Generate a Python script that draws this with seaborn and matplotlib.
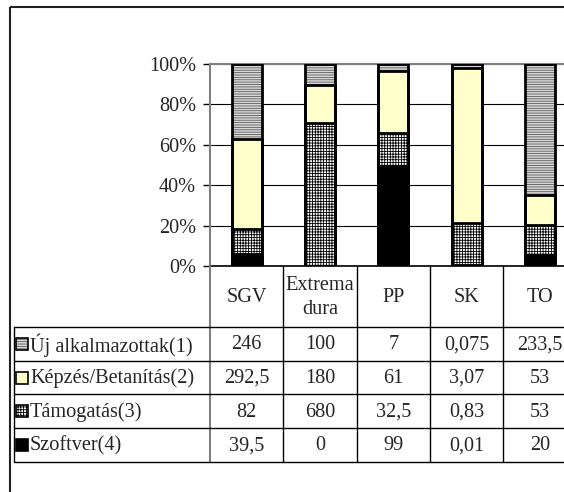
import matplotlib
matplotlib.use("Agg")
import matplotlib.pyplot as plt
from matplotlib.patches import Rectangle
import seaborn as sns

categories = ['SGV', 'Extrema dura', 'PP', 'SK', 'TO']
header_labels = ['SGV', 'Extrema\ndura', 'PP', 'SK', 'TO']
series_names = ['Új alkalmazottak(1)', 'Képzés/Betanítás(2)', 'Támogatás(3)', 'Szoftver(4)']
uj_alk = [246, 100, 7, 0.075, 233.5]
kepzes = [292.5, 180, 61, 3.07, 53]
tamogatas = [82, 680, 32.5, 0.83, 53]
szoftver = [39.5, 0, 99, 0.01, 20]
y_ticks = [0, 0.2, 0.4, 0.6, 0.8, 1.0]
y_ticklabels = ['0%', '20%', '40%', '60%', '80%', '100%']

sns.set_style("white")
plt.rcParams['font.family'] = ['Liberation Serif', 'DejaVu Serif']
plt.rcParams['hatch.linewidth'] = 0.6
FS = 14.6

W, H = 564, 492
fig = plt.figure(figsize=(W / 100, H / 100), dpi=100)

# plot area in pixels
x0, col_w = 210, 73.3
y_top, y_zero = 64, 266
ax = fig.add_axes([x0 / W, (H - y_zero) / H, 5 * col_w / W, (y_zero - y_top) / H])

totals = [a + b + c + d for a, b, c, d in zip(uj_alk, kepzes, tamogatas, szoftver)]
p_szoft = [d / t for d, t in zip(szoftver, totals)]
p_tam = [(c + d) / t for c, d, t in zip(tamogatas, szoftver, totals)]
p_kep = [(b + c + d) / t for b, c, d, t in zip(kepzes, tamogatas, szoftver, totals)]
p_all = [1.0 for _ in totals]

styles = {
    'uj': dict(face='#d8d8d8', hatch='-------', hcol='#5a5a5a'),
    'kep': dict(face='#ffffcc', hatch=None, hcol='black'),
    'tam': dict(face='white', hatch='++++++', hcol='black'),
    'szo': dict(face='black', hatch=None, hcol='black'),
}
layers = [(p_all, 'uj'), (p_kep, 'kep'), (p_tam, 'tam'), (p_szoft, 'szo')]

bw = 0.41
lw_bar = 2.0
for vals, key in layers:
    st = styles[key]
    n = len(ax.patches)
    sns.barplot(x=categories, y=vals, ax=ax, color=st['face'], saturation=1,
                width=bw, errorbar=None)
    for p in ax.patches[n:]:
        if key == 'uj':
            p.set_edgecolor(st['hcol'])
            p.set_linewidth(0)
            p.set_hatch(st['hatch'])
        else:
            p.set_edgecolor('black')
            p.set_linewidth(lw_bar)
            if st['hatch']:
                p.set_hatch(st['hatch'])

# outer black outline of the full stacks
n = len(ax.patches)
sns.barplot(x=categories, y=p_all, ax=ax, color='black', fill=False,
            width=bw, errorbar=None, linewidth=lw_bar)
for p in ax.patches[n:]:
    p.set_zorder(3)

ax.set_xlim(-0.5, 4.5)
ax.set_ylim(0, 1)
ax.set_xticks([])
ax.set_xlabel('')
ax.set_ylabel('')
ax.set_yticks(y_ticks)
ax.set_yticklabels(y_ticklabels, fontsize=FS)
ax.tick_params(axis='y', left=True, length=5, width=1, color='black', pad=5)
ax.set_axisbelow(True)
ax.yaxis.grid(True, color='black', linewidth=0.8)
ax.xaxis.grid(False)
ax.spines['top'].set_color('#808080')
ax.spines['top'].set_linewidth(1.5)
ax.spines['left'].set_color('#808080')
ax.spines['left'].set_linewidth(1.5)
ax.spines['bottom'].set_color('black')
ax.spines['bottom'].set_linewidth(1.2)
ax.spines['right'].set_visible(False)

# overlay in pixel coordinates for the data table and the frame
ov = fig.add_axes([0, 0, 1, 1])
ov.set_xlim(0, W)
ov.set_ylim(H, 0)
ov.axis('off')
ov.patch.set_visible(False)

ov.add_patch(Rectangle((10, 7), 700, 600, fill=False, edgecolor='#202020', linewidth=1.5))

row_tops = [327, 360.7, 394.3, 428, 461.7]
tab_left = 14
# vertical lines
ov.plot([x0, x0], [y_zero, row_tops[-1]], color='#808080', lw=1.5)
for k in range(1, 6):
    xx = x0 + k * col_w
    ov.plot([xx, xx], [y_zero, row_tops[-1]], color='black', lw=1)
ov.plot([tab_left, tab_left], [row_tops[0], row_tops[-1]], color='black', lw=1)
for yy in row_tops:
    ov.plot([tab_left, 700], [yy, yy], color='black', lw=1)

# header
for i, lab in enumerate(header_labels):
    ov.text(x0 + (i + 0.5) * col_w, (y_zero + row_tops[0]) / 2 + 1, lab,
            ha='center', va='center', fontsize=FS, linespacing=1.35)

def fmt(v):
    return f"{v:g}".replace('.', ',')

rows = [uj_alk, kepzes, tamogatas, szoftver]
keys = ['uj', 'kep', 'tam', 'szo']
for r, (name, vals, key) in enumerate(zip(series_names, rows, keys)):
    yc = (row_tops[r] + row_tops[r + 1]) / 2
    st = styles[key]
    ks = 12
    if key == 'uj':
        ov.add_patch(Rectangle((16, yc - ks / 2), ks, ks, facecolor=st['face'],
                               edgecolor=st['hcol'], hatch=st['hatch'], lw=0))
        ov.add_patch(Rectangle((16, yc - ks / 2), ks, ks, fill=False,
                               edgecolor='black', lw=1.2))
    else:
        ov.add_patch(Rectangle((16, yc - ks / 2), ks, ks, facecolor=st['face'],
                               edgecolor='black', hatch=st['hatch'], lw=1.2))
    ov.text(30, yc + 1, name, ha='left', va='center', fontsize=FS)
    for i, v in enumerate(vals):
        ov.text(x0 + (i + 0.5) * col_w, yc + 1, fmt(v), ha='center', va='center', fontsize=FS)

fig.savefig('out.png', dpi=100)
